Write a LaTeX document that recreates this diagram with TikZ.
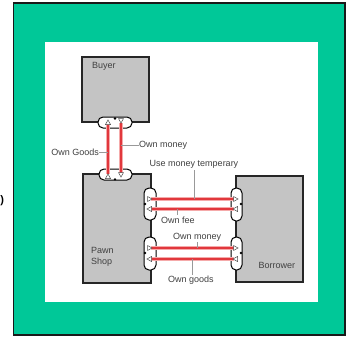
\documentclass[tikz,border=0pt]{standalone}
\usepackage{fontspec}
\setmainfont{Liberation Sans}
\begin{document}
\begin{tikzpicture}[x=1pt,y=-1pt,
  actor/.style={draw=black!85,line width=1.1pt,fill=black!23},
  port/.style={draw=black,line width=1pt,fill=white,rounded corners=5pt},
  flowbg/.style={draw={rgb,255:red,245;green,170;blue,170},line width=3.2pt},
  flow/.style={draw={rgb,255:red,225;green,55;blue,60},line width=1.5pt},
  tri/.style={draw=black!70,line width=0.5pt,fill=white},
  lbl/.style={font=\fontsize{9}{10}\selectfont,text=black!75,inner sep=0pt},
  lead/.style={draw=black!40,line width=0.6pt},
  dotm/.style={fill=black}]
\useasboundingbox (0,0) rectangle (346,338);
% frame
\fill[white] (0,0) rectangle (346,338);
\draw[fill={rgb,255:red,0;green,200;blue,152},line width=1.6pt,draw=black!90] (13.5,3) rectangle (345,335);
\fill[white] (45,42) rectangle (318,302);
\node[anchor=west,inner sep=0pt,font=\bfseries\fontsize{11}{11}\selectfont] (paren) at (0.3,201) {)};
% actors
\draw[actor] (82,57) rectangle (149,122);
\coordinate (buyer) at (82,57);
\draw[actor] (83,174) rectangle (151,283);
\coordinate (pawn) at (83,174);
\draw[actor] (236,176) rectangle (303,282);
\coordinate (borrower) at (236,176);
\node[lbl,anchor=north west] (tbuyer) at (92,62) {Buyer};
\node[lbl,anchor=north west,align=left] (tpawn) at (91,247) {Pawn\\[1.5pt]Shop};
\node[lbl,anchor=north west] (tborrower) at (258.5,262.5) {Borrower};
% ports
\draw[port] (98,117) rectangle (132,128);
\draw[port] (99,169) rectangle (132,180);
\draw[port] (144,188) rectangle (156,220);
\draw[port] (144,237) rectangle (156,270);
\draw[port] (231,188) rectangle (242,221);
\draw[port] (231,237) rectangle (242,270);
% flow end points
\coordinate (g1) at (108,124); \coordinate (g2) at (108,174);
\coordinate (m1) at (121,123); \coordinate (m2) at (121,173);
\coordinate (a1) at (151,199); \coordinate (a2) at (234,199);
\coordinate (b1) at (151,209); \coordinate (b2) at (234,209);
\coordinate (c1) at (151,248); \coordinate (c2) at (234,248);
\coordinate (d1) at (151,259); \coordinate (d2) at (234,259);
\foreach \p/\q in {g1/g2,m1/m2,a1/a2,b1/b2,c1/c2,d1/d2}{
  \draw[flowbg] (\p) -- (\q);
  \draw[flow] (\p) -- (\q);
}
% triangles
\foreach \x/\y in {108/120,108/174}{\draw[tri] (\x-2.5,\y+4.5) -- (\x+2.5,\y+4.5) -- (\x,\y) -- cycle;}
\foreach \x/\y in {121/123,121/177}{\draw[tri] (\x-2.5,\y-4.5) -- (\x+2.5,\y-4.5) -- (\x,\y) -- cycle;}
\foreach \x/\y in {152/199,152/248,238/199,238/248}{\draw[tri] (\x-4.5,\y-2.5) -- (\x-4.5,\y+2.5) -- (\x,\y) -- cycle;}
\foreach \x/\y in {147/209,147/259,233/209,233/259}{\draw[tri] (\x+4.5,\y-2.5) -- (\x+4.5,\y+2.5) -- (\x,\y) -- cycle;}
% dots
\foreach \x/\y in {115/118.5,115/179.3,145/204,145/253,241/204,241/253}{\fill[dotm] (\x,\y) circle (1.3);}
% labels
\node[lbl,anchor=east] (lgoods) at (99,152.5) {Own Goods};
\draw[lead] (lgoods.east) -- (108,152.5);
\node[lbl,anchor=west] (lmoney) at (139,145) {Own money};
\draw[lead] (lmoney.west) -- (121,145);
\node[lbl,anchor=south] (luse) at (194,169) {Use money temperary};
\draw[lead] (194,170) -- (194,199);
\node[lbl,anchor=north west] (lfee) at (161,216.5) {Own fee};
\draw[lead] (177,209) -- (177,215);
\node[lbl,anchor=south west] (lmoney2) at (173,242) {Own money};
\draw[lead] (197.5,242) -- (197.5,248);
\node[lbl,anchor=north west] (lgoods2) at (168,276) {Own goods};
\draw[lead] (192.7,259) -- (192.7,275);
\end{tikzpicture}
\end{document}
